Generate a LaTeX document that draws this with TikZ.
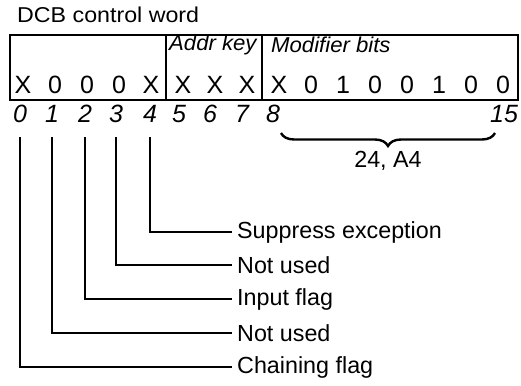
\documentclass[tikz,border=0pt]{standalone}
\usepackage{fontspec}
\setmainfont{Liberation Sans}
\newfontfamily\titlefont[FakeStretch=1.08]{Liberation Sans}
\newfontfamily\hdrfont[FakeStretch=1.03]{Liberation Sans}
\usetikzlibrary{decorations.pathreplacing}
\tikzset{
  txt/.style={inner sep=0pt, font=\fontsize{23.3}{27}\selectfont},
  ttl/.style={txt, anchor=west, font=\titlefont\fontsize{21.5}{25}\selectfont},
  hdr/.style={txt, anchor=west, font=\hdrfont\fontsize{21.5}{25}\selectfont\itshape},
  bit/.style={txt, font=\fontsize{25}{29}\selectfont},
  num/.style={txt, font=\fontsize{25}{29}\selectfont\itshape},
  lbl/.style={txt, anchor=west, inner xsep=5pt},
  frame/.style={line width=2.4pt},
  conn/.style={line width=2.4pt},
}
\begin{document}
\begin{tikzpicture}[x=1pt,y=-1pt]
\useasboundingbox (0,0) rectangle (521,385);
\node[ttl] (title) at (17,15) {DCB control word};
\draw[frame] (10,35) rectangle (518,100);
\draw[frame] (166,35) -- (166,100);
\draw[frame] (262,35) -- (262,100);
\node[hdr] (addr) at (169,45) {Addr key};
\node[hdr] (mod) at (271,45) {Modifier bits};
% bits
\foreach \v [count=\i from 0] in {X,0,0,0,X,X,X,X,X,0,1,0,0,1,0,0} {
  \node[bit] (b\i) at ({23+32*\i},85) {\v};
}
% bit numbers
\node[num] (n0) at (20,114) {0};
\node[num] (n1) at (52,114) {1};
\node[num] (n2) at (85,114) {2};
\node[num] (n3) at (116,114) {3};
\node[num] (n4) at (150,114) {4};
\node[num] (n5) at (179,114) {5};
\node[num] (n6) at (210,114) {6};
\node[num] (n7) at (242,114) {7};
\node[num] (n8) at (273,114) {8};
\node[num] (n15) at (504,114) {15};
% brace
\coordinate (br1) at (281,133);
\coordinate (br2) at (495,133);
\draw[line width=2.4pt, decorate, decoration={brace, mirror, amplitude=13pt}] (br1) -- (br2);
\node[txt] (val) at (388,161) {24, A4};
% labels
\node[lbl] (l4) at (232,232) {Suppress exception};
\node[lbl] (l3) at (232,265) {Not used};
\node[lbl] (l2) at (232,299) {Input flag};
\node[lbl] (l1) at (232,333) {Not used};
\node[lbl] (l0) at (232,367) {Chaining flag};
\coordinate (ctop) at (0,137);
\draw[conn] (n4 |- ctop) |- (l4.west);
\draw[conn] (n3 |- ctop) |- (l3.west);
\draw[conn] (n2 |- ctop) |- (l2.west);
\draw[conn] (n1 |- ctop) |- (l1.west);
\draw[conn] (n0 |- ctop) |- (l0.west);
\end{tikzpicture}
\end{document}
